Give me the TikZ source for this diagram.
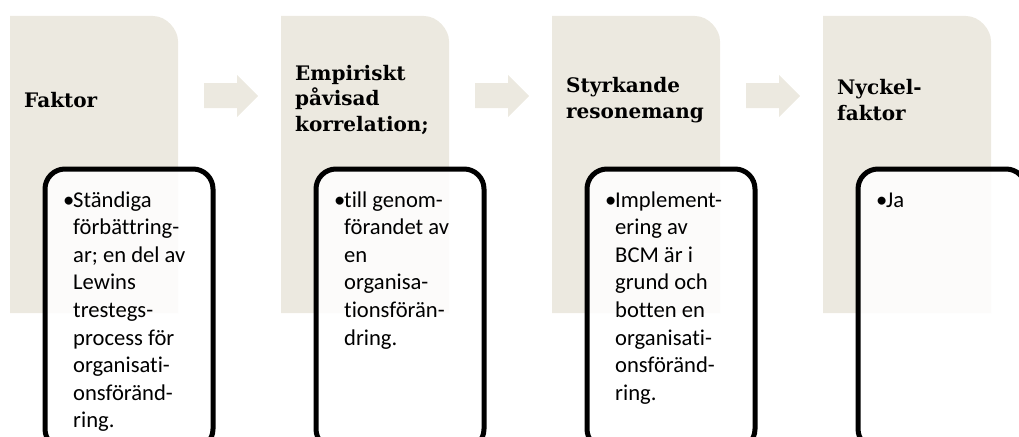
\documentclass[tikz,border=0pt]{standalone}
\usepackage{fontspec}
\newfontfamily\headfont{DejaVu Serif}
\newfontfamily\bodyfont{Carlito}[Ligatures={NoCommon}]
\definecolor{panel}{HTML}{ECE9E0}
\begin{document}
\begin{tikzpicture}[x=1pt,y=-1pt,
  panelshape/.style={fill=panel},
  flowarrow/.style={fill=panel},
  heading/.style={anchor=west, align=left, inner sep=0pt,
    font=\headfont\bfseries\fontsize{20}{25.5}\selectfont},
  card/.style={draw=black, line width=5pt, rounded corners=20pt, fill=white,
    fill opacity=0.85, anchor=north west, outer sep=0pt, inner sep=0pt,
    minimum width=168pt, minimum height=280pt},
  cardtext/.style={anchor=base west, inner sep=0pt, text opacity=1,
    font=\bodyfont\fontsize{22.6}{27.6}\selectfont}]
\useasboundingbox (0,0) rectangle (1019,436);
\clip (0,0) rectangle (1019,436);

% beige column panels, top right corner rounded
\foreach \i in {0,...,3}{
  \pgfmathsetmacro\l{10+271*\i}
  \pgfmathsetmacro\r{\l+168}
  \fill[panelshape] (\l,313) -- (\l,16) -- ({\r-25},16)
    .. controls ({\r-11.2},16) and (\r,29.8) .. (\r,41) -- (\r,313) -- cycle;
}

% block arrows between the panels
\foreach \i in {0,1,2}{
  \begin{scope}[xshift=271*\i]
    \fill[flowarrow] (204,83) -- (237,83) -- (237,75) -- (258,96)
      -- (237,117) -- (237,108) -- (204,108) -- cycle;
  \end{scope}
}

% panel headings
\node[heading] (h1) at (24,100) {Faktor};
\node[heading] (h2) at (295,100) {Empiriskt\\påvisad\\korrelation;};
\node[heading] (h3) at (566,100) {Styrkande\\resonemang};
\node[heading] (h4) at (837,100) {Nyckel-\\faktor};

% cards with the bullet text
\node[card] (c1) at (45,169) {};
\node[card] (c2) at (316,169) {};
\node[card] (c3) at (587,169) {};
\node[card] (c4) at (858,169) {};

\node[cardtext] (t1) at (63,207) {\begin{tabular}[t]{@{}p{10pt}@{}l@{}}
•&Ständiga\\ &förbättring-\\ &ar; en del av\\ &Lewins\\ &trestegs-\\
 &process för\\ &organisati-\\ &onsföränd-\\ &ring.\end{tabular}};
\node[cardtext] (t2) at (334,207) {\begin{tabular}[t]{@{}p{10pt}@{}l@{}}
•&till genom-\\ &förandet av\\ &en\\ &organisa-\\ &tionsförän-\\ &dring.\end{tabular}};
\node[cardtext] (t3) at (605,207) {\begin{tabular}[t]{@{}p{10pt}@{}l@{}}
•&Implement-\\ &ering av\\ &BCM är i\\ &grund och\\ &botten en\\
 &organisati-\\ &onsföränd-\\ &ring.\end{tabular}};
\node[cardtext] (t4) at (876,207) {\begin{tabular}[t]{@{}p{10pt}@{}l@{}}
•&Ja\end{tabular}};
\end{tikzpicture}
\end{document}
